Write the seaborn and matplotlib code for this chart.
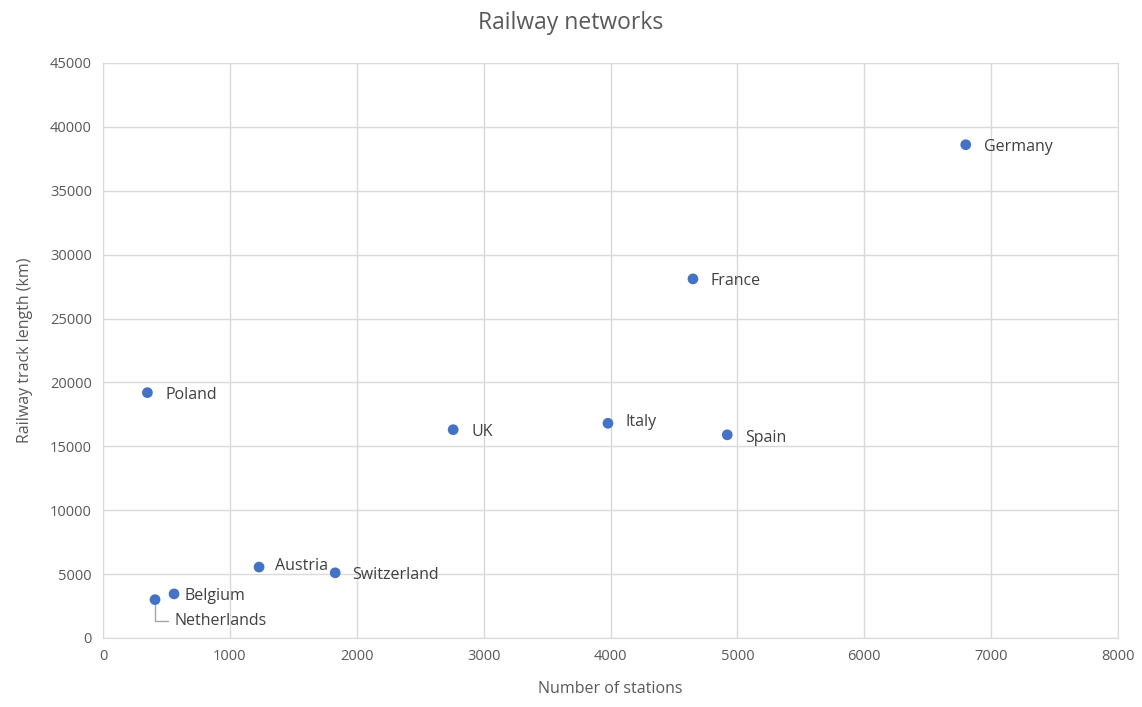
import numpy as np
import pandas as pd
import matplotlib
matplotlib.use("Agg")
import matplotlib.pyplot as plt
import seaborn as sns

sns.set_style("white")
plt.rcParams["font.family"] = ["Open Sans", "DejaVu Sans"]

countries = ["Germany", "France", "Poland", "UK", "Italy", "Spain",
             "Austria", "Switzerland", "Belgium", "Netherlands"]
stations = [6800, 4650, 350, 2760, 3980, 4920, 1230, 1830, 560, 410]
track_km = [38600, 28100, 19200, 16300, 16800, 15900, 5550, 5100, 3450, 3000]

df = pd.DataFrame({"country": countries, "stations": stations, "track": track_km})

# label offsets in pixels from the point
offsets = {
    "Germany": (18, -2), "France": (18, -2), "Poland": (18, -2), "UK": (18, -2),
    "Italy": (18, 1), "Spain": (18, -3), "Austria": (16, 1),
    "Switzerland": (17, -2), "Belgium": (10, -2), "Netherlands": (19, -21),
}

fig = plt.figure(figsize=(11.42, 7.07), dpi=100)
ax = fig.add_axes([0.0902, 0.0976, 0.979 - 0.0902, 0.911 - 0.0976])

sns.scatterplot(data=df, x="stations", y="track", ax=ax, color="#4472C4",
                s=60, edgecolor="none", zorder=3)

for c, xv, yv in zip(countries, stations, track_km):
    dx, dy = offsets[c]
    if c == "Netherlands":
        ax.annotate(c, (xv, yv), xytext=(dx, dy), textcoords="offset pixels",
                    ha="left", va="center", fontsize=11.5, color="#404040",
                    arrowprops=dict(arrowstyle="-", color="#a6a6a6", lw=1,
                                    connectionstyle="angle,angleA=0,angleB=90,rad=0",
                                    shrinkA=2, shrinkB=4))
    else:
        ax.annotate(c, (xv, yv), xytext=(dx, dy), textcoords="offset pixels",
                    ha="left", va="center", fontsize=11.5, color="#404040")

ax.set_xlim(0, 8000)
ax.set_ylim(0, 45000)
ax.set_xticks(np.arange(0, 8001, 1000))
ax.set_yticks(np.arange(0, 45001, 5000))
ax.grid(True, color="#d9d9d9", lw=1)
ax.set_axisbelow(True)
for sp in ax.spines.values():
    sp.set_color("#d9d9d9")
ax.tick_params(axis="both", length=0, labelsize=10.5, labelcolor="#595959", pad=8)

ax.set_xlabel("Number of stations", fontsize=11.5, color="#595959", labelpad=12)
ax.set_ylabel("Railway track length (km)", fontsize=11.5, color="#595959", labelpad=12)
fig.suptitle("Railway networks", fontsize=16.5, color="#595959", y=0.985)

fig.savefig("out.png", dpi=100)
